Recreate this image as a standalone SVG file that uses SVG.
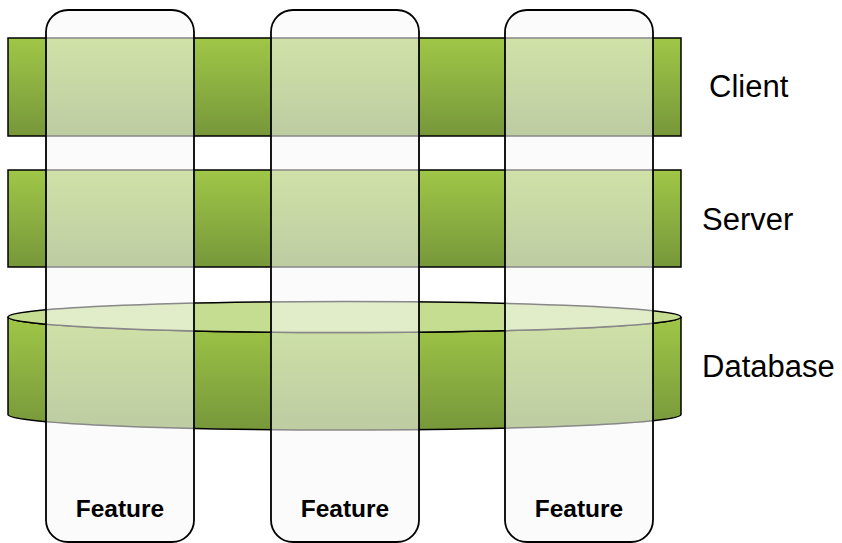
<svg xmlns="http://www.w3.org/2000/svg" width="842" height="543" viewBox="0 0 842 543">
  <style>
    .bar { fill: url(#barGrad); stroke: #000; stroke-width: 1.5; }
    .cyl { fill: url(#cylGrad); stroke: #000; stroke-width: 1.5; }
    .cyltop { fill: #c5dd90; stroke: #000; stroke-width: 1.5; }
    .col { fill: #f7f7f7; fill-opacity: 0.55; stroke: #000; stroke-width: 1.8; }
    .layer { font-family: "Liberation Sans", Arial, sans-serif; font-size: 31px; fill: #000; }
    .feat { font-family: "Liberation Sans", Arial, sans-serif; font-size: 24.5px; font-weight: bold; fill: #000; text-anchor: middle; }
  </style>
  <defs>
    <linearGradient id="barGrad" x1="0" y1="0" x2="0" y2="1">
      <stop offset="0" stop-color="#9fc747"/>
      <stop offset="1" stop-color="#77973a"/>
    </linearGradient>
    <linearGradient id="cylGrad" gradientUnits="userSpaceOnUse" x1="0" y1="317" x2="0" y2="430">
      <stop offset="0" stop-color="#9fc747"/>
      <stop offset="1" stop-color="#77973a"/>
    </linearGradient>
  </defs>

  <g id="client">
    <rect class="bar" x="8" y="38" width="673" height="98"/>
    <text class="layer" x="709" y="97">Client</text>
  </g>
  <g id="server">
    <rect class="bar" x="8" y="170" width="673" height="97"/>
    <text class="layer" x="702" y="230">Server</text>
  </g>
  <g id="database">
    <path class="cyl" d="M8,317 L8,414.5 A336.5,15.5 0 0 0 681,414.5 L681,317 A336.5,15.5 0 0 1 8,317 Z"/>
    <ellipse class="cyltop" cx="344.5" cy="317" rx="336.5" ry="15.5"/>
    <text class="layer" x="702" y="377">Database</text>
  </g>

  <g id="feature1">
    <rect class="col" x="46" y="10" width="148" height="532" rx="22" ry="22"/>
    <text class="feat" x="120" y="517">Feature</text>
  </g>
  <g id="feature2">
    <rect class="col" x="271" y="10" width="148" height="532" rx="22" ry="22"/>
    <text class="feat" x="345" y="517">Feature</text>
  </g>
  <g id="feature3">
    <rect class="col" x="505" y="10" width="148" height="532" rx="22" ry="22"/>
    <text class="feat" x="579" y="517">Feature</text>
  </g>

  <g id="connectors"/>
</svg>
